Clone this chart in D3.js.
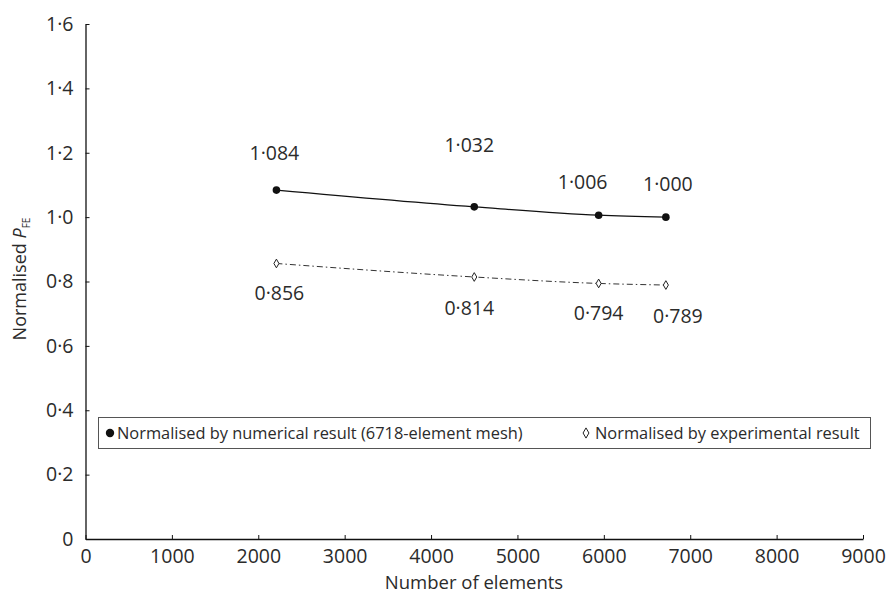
<!DOCTYPE html>
<html><head><meta charset="utf-8">
<script src="https://cdn.jsdelivr.net/npm/d3@7"></script>
<style>body{margin:0;background:#fff}svg{display:block}text{font-family:"Open Sans","Noto Sans",sans-serif;fill:#2b2b2b}</style>
</head><body>
<script>
const elements = [2210, 4500, 5940, 6718];
const numerical = [1.084, 1.032, 1.006, 1.000];
const experimental = [0.856, 0.814, 0.794, 0.789];
const xTicks = [0,1000,2000,3000,4000,5000,6000,7000,8000,9000];
const yTicks = [0,0.2,0.4,0.6,0.8,1.0,1.2,1.4,1.6];
const seriesNames = ["Normalised by numerical result (6718-element mesh)", "Normalised by experimental result"];

const W=890,H=594;
const svg=d3.select("body").append("svg").attr("width",W).attr("height",H);
const x=d3.scaleLinear().domain([0,9000]).range([85.5,863]);
const y=d3.scaleLinear().domain([0,1.6]).range([539,24]);
const fmt=v=>d3.format(".1f")(v).replace(".","·");
const fmt3=v=>d3.format(".3f")(v).replace(".","·");

const gx=svg.append("g").attr("transform",`translate(0,${y(0)})`)
  .call(d3.axisBottom(x).tickValues(xTicks).tickSizeInner(-4).tickSizeOuter(0).tickPadding(10).tickFormat(d3.format("d")));
const gy=svg.append("g").attr("transform",`translate(${x(0)},0)`)
  .call(d3.axisLeft(y).tickValues(yTicks).tickSizeInner(-4).tickSizeOuter(0).tickPadding(12).tickFormat(d=>d===0?"0":fmt(d)));
[gx,gy].forEach(g=>{g.select(".domain").attr("stroke","#111").attr("stroke-width",1.3);
  g.selectAll(".tick line").attr("stroke","#111");
  g.selectAll(".tick text").style("font-size","19.5px").attr("fill","#2b2b2b");});

svg.append("text").attr("x",474).attr("y",589).attr("text-anchor","middle").style("font-size","18.5px").text("Number of elements");
const yt=svg.append("text").attr("transform",`translate(26,279) rotate(-90)`).attr("text-anchor","middle").style("font-size","18px");
yt.append("tspan").text("Normalised ");
yt.append("tspan").style("font-style","italic").text("P");
yt.append("tspan").attr("dy",4).style("font-size","10px").text("FE");

const line=d3.line().x(d=>x(d[0])).y(d=>y(d[1])).curve(d3.curveMonotoneX);
const d1=elements.map((e,i)=>[e,numerical[i]]);
const d2=elements.map((e,i)=>[e,experimental[i]]);
svg.append("path").attr("d",line(d1)).attr("fill","none").attr("stroke","#111").attr("stroke-width",1.3);
svg.append("path").attr("d",line(d2)).attr("fill","none").attr("stroke","#333").attr("stroke-width",1).attr("stroke-dasharray","6,3,1.5,3");

svg.selectAll("circle.p1").data(d1).enter().append("circle").attr("cx",d=>x(d[0])).attr("cy",d=>y(d[1])).attr("r",3.8).attr("fill","#111");
const sym=d3.symbol().type(d3.symbolDiamond).size(22);
svg.selectAll("path.p2").data(d2).enter().append("path").attr("d",sym).attr("transform",d=>`translate(${x(d[0])},${y(d[1])})`).attr("fill","#fff").attr("stroke","#222").attr("stroke-width",1);

const up=[37,62,33,33], dn=[30,31,30,31];
const dxUp=[-2,-5,-16,2], dxDn=[3,-5,0,12];
svg.selectAll("text.l1").data(d1).enter().append("text").attr("x",(d,i)=>x(d[0])+dxUp[i]).attr("y",(d,i)=>y(d[1])-up[i]+7).attr("text-anchor","middle").style("font-size","19.5px").text(d=>fmt3(d[1]));
svg.selectAll("text.l2").data(d2).enter().append("text").attr("x",(d,i)=>x(d[0])+dxDn[i]).attr("y",(d,i)=>y(d[1])+dn[i]+7).attr("text-anchor","middle").style("font-size","19.5px").text(d=>fmt3(d[1]));

const lg=svg.append("g");
lg.append("rect").attr("x",98.5).attr("y",417.5).attr("width",772).attr("height",31).attr("fill","#fff").attr("stroke","#555").attr("stroke-width",1);
lg.append("circle").attr("cx",110).attr("cy",433).attr("r",4.2).attr("fill","#111");
lg.append("text").attr("x",117).attr("y",439).style("font-size","16.4px").text(seriesNames[0]);
lg.append("path").attr("d",d3.symbol().type(d3.symbolDiamond).size(30)).attr("transform","translate(586,433)").attr("fill","#fff").attr("stroke","#222").attr("stroke-width",1);
lg.append("text").attr("x",595).attr("y",439).style("font-size","16.4px").text(seriesNames[1]);
</script>
</body></html>
